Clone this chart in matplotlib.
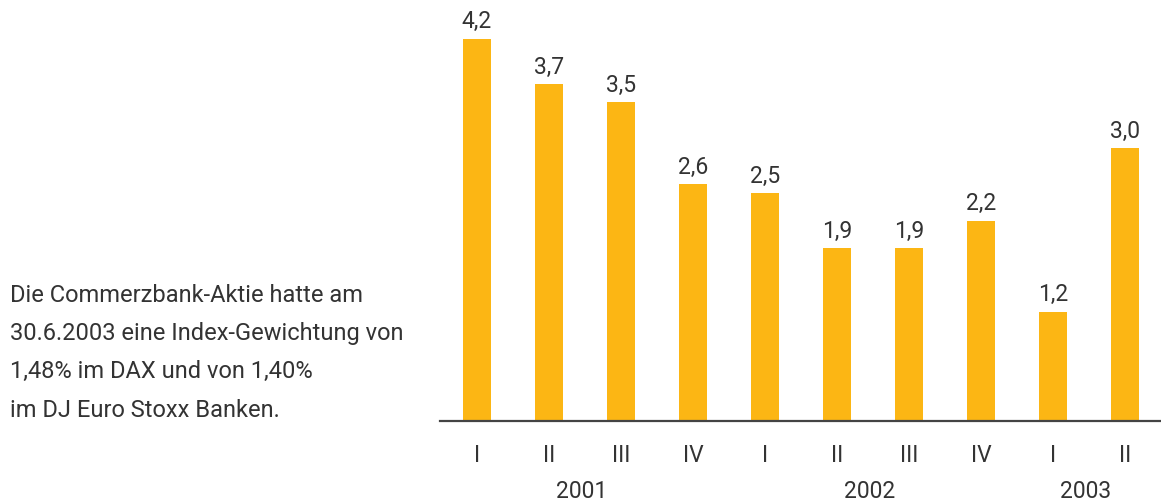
import matplotlib
matplotlib.use("Agg")
import matplotlib.pyplot as plt
import numpy as np

# quarterly values
quarters = ["I", "II", "III", "IV", "I", "II", "III", "IV", "I", "II"]
values = [4.2, 3.7, 3.5, 2.6, 2.5, 1.9, 1.9, 2.2, 1.2, 3.0]
years = ["2001", "2002", "2003"]
year_groups = [[0, 1, 2, 3], [4, 5, 6, 7], [8, 9]]

note = ("Die Commerzbank-Aktie hatte am\n"
        "30.6.2003 eine Index-Gewichtung von\n"
        "1,48% im DAX und von 1,40%\n"
        "im DJ Euro Stoxx Banken.")

bar_color = "#FCB614"
text_color = "#333333"
plt.rcParams['font.family'] = ['Roboto', 'DejaVu Sans']

fig = plt.figure(figsize=(11.61, 5.02), dpi=100)
ax = fig.add_axes([0.379, 0.1594, 0.621, 0.8406])

x = np.arange(len(values))
ax.bar(x, values, width=0.39, color=bar_color, zorder=2)

for xi, v in zip(x, values):
    ax.text(xi, v + 0.07, f"{v:.1f}".replace(".", ","), ha="center", va="bottom",
            fontsize=16.5, color=text_color)

ax.set_xlim(-0.514, 9.5)
ax.set_ylim(0, 4.637)

for s in ["top", "right", "left"]:
    ax.spines[s].set_visible(False)
ax.spines["bottom"].set_color("#444444")
ax.spines["bottom"].set_linewidth(1.6)
ax.set_yticks([])
ax.set_xticks(x)
ax.set_xticklabels(quarters, fontsize=16.5, color=text_color)
ax.tick_params(axis="x", length=0, pad=16)

for yr, grp in zip(years, year_groups):
    ax.text(np.mean(grp) - 0.05, -0.76, yr, ha="center", va="center",
            fontsize=16.5, color=text_color)

fig.text(0.009, 0.297, note, ha="left", va="center", fontsize=17,
         color=text_color, linespacing=1.84)

fig.savefig("out.png", dpi=100)
